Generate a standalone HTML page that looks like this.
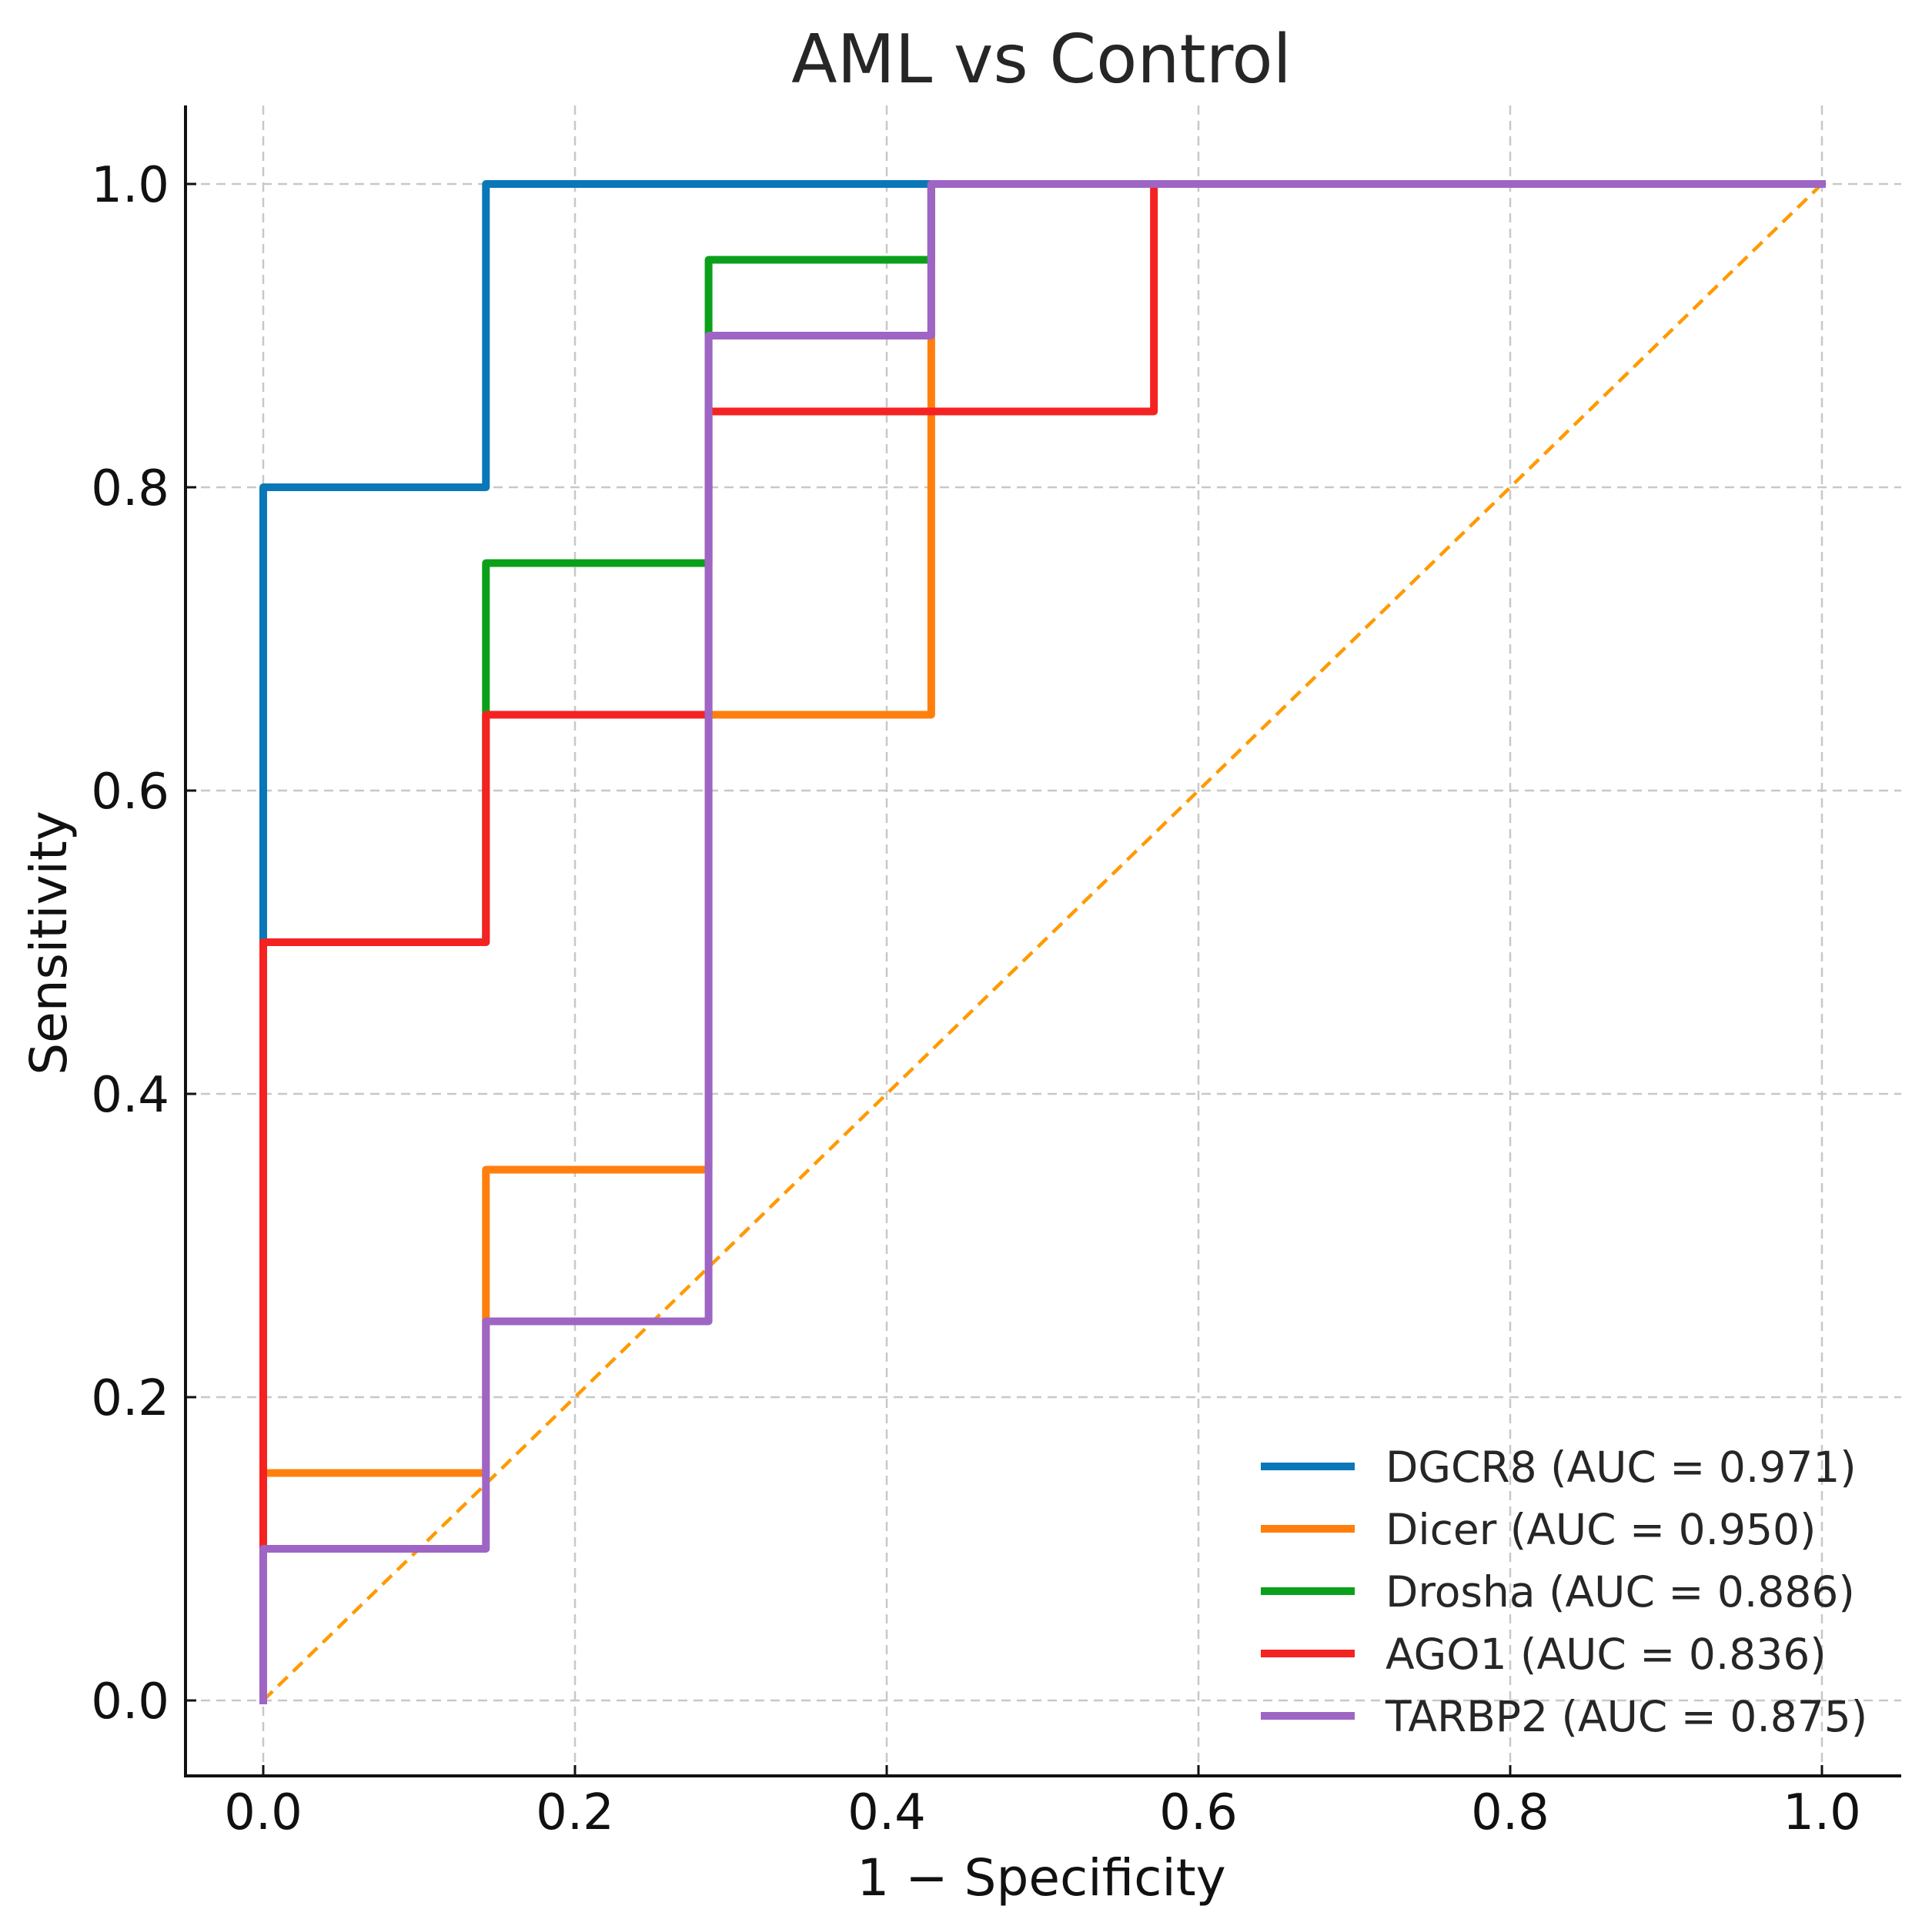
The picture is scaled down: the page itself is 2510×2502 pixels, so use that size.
<!DOCTYPE html>
<html><head><meta charset="utf-8">
<style>
html,body{margin:0;padding:0;background:#fff;}
svg{display:block;font-family:"DejaVu Sans","Liberation Sans",sans-serif;}
</style></head>
<body>
<svg id="chart" width="2510" height="2502" viewBox="0 0 2510 2502" xmlns="http://www.w3.org/2000/svg">
<rect width="2510" height="2502" fill="#fff"/>
<g id="grid"></g>
<g id="series"></g>
<g id="axes"></g>
<g id="legend"></g>
<text x="1353" y="107" font-size="87" text-anchor="middle" fill="#262626">AML vs Control</text>
<text x="1353" y="2462" font-size="66" text-anchor="middle" fill="#111">1 − Specificity</text>
<text x="0" y="0" font-size="66" text-anchor="middle" fill="#111" transform="translate(86,1225) rotate(-90)">Sensitivity</text>
</svg>
<script>
const xTicks = [0, 0.2, 0.4, 0.6, 0.8, 1.0];
const yTicks = [0, 0.2, 0.4, 0.6, 0.8, 1.0];
const tickLabels = ["0.0", "0.2", "0.4", "0.6", "0.8", "1.0"];
const seriesNames = ["DGCR8 (AUC = 0.971)", "Dicer (AUC = 0.950)", "Drosha (AUC = 0.886)", "AGO1 (AUC = 0.836)", "TARBP2 (AUC = 0.875)"];
const seriesColors = ["#0a77b8", "#ff7f0e", "#0aa01a", "#f52222", "#9e65c4"];
const dgcr8FPR = [0, 0, 1/7, 1/7, 1];
const dgcr8TPR = [0, 0.8, 0.8, 1, 1];
const dicerFPR = [0, 0, 1/7, 1/7, 2/7, 2/7, 3/7, 3/7, 1];
const dicerTPR = [0, 0.15, 0.15, 0.35, 0.35, 0.65, 0.65, 1, 1];
const droshaFPR = [0, 0, 1/7, 1/7, 2/7, 2/7, 3/7, 3/7, 1];
const droshaTPR = [0, 0.5, 0.5, 0.75, 0.75, 0.95, 0.95, 1, 1];
const ago1FPR = [0, 0, 1/7, 1/7, 2/7, 2/7, 4/7, 4/7, 1];
const ago1TPR = [0, 0.5, 0.5, 0.65, 0.65, 0.85, 0.85, 1, 1];
const tarbp2FPR = [0, 0, 1/7, 1/7, 2/7, 2/7, 3/7, 3/7, 1];
const tarbp2TPR = [0, 0.1, 0.1, 0.25, 0.25, 0.9, 0.9, 1, 1];
const diagX = [0, 1];
const diagY = [0, 1];

const NS = "http://www.w3.org/2000/svg";
const X0 = 342, X1 = 2367, Y0 = 2209, Y1 = 239;
const L = 241, R = 2470, T = 137, B = 2307;
const sx = v => X0 + v * (X1 - X0);
const sy = v => Y0 - v * (Y0 - Y1);
function mk(tag, attrs, parent) {
  const e = document.createElementNS(NS, tag);
  for (const k in attrs) e.setAttribute(k, attrs[k]);
  parent.appendChild(e);
  return e;
}
const grid = document.getElementById('grid');
const axes = document.getElementById('axes');
const ser = document.getElementById('series');
const leg = document.getElementById('legend');

xTicks.forEach((v, i) => {
  const g = mk('line', {x1: sx(v), x2: sx(v), y1: T, y2: B, stroke: '#c8c8c8', 'stroke-width': 2.5, 'stroke-dasharray': '12 8'}, grid);
  
  
  const t = mk('line', {x1: sx(v), x2: sx(v), y1: B, y2: B - 14, stroke: '#111', 'stroke-width': 3}, axes);
  
  
  const lb = mk('text', {x: sx(v), y: 2376, 'font-size': 64, 'text-anchor': 'middle', fill: '#111'}, axes);
  lb.textContent = tickLabels[i];
  
  
});
yTicks.forEach((v, i) => {
  const g = mk('line', {x1: L, x2: R, y1: sy(v), y2: sy(v), stroke: '#c8c8c8', 'stroke-width': 2.5, 'stroke-dasharray': '12 8'}, grid);
  
  
  const t = mk('line', {x1: L, x2: L + 14, y1: sy(v), y2: sy(v), stroke: '#111', 'stroke-width': 3}, axes);
  
  
  const lb = mk('text', {x: 220, y: sy(v) + 23, 'font-size': 64, 'text-anchor': 'end', fill: '#111'}, axes);
  lb.textContent = tickLabels[i];
  
  
});
const ls = mk('line', {x1: L, x2: L, y1: T, y2: B + 2, stroke: '#111', 'stroke-width': 4}, axes);


const bs = mk('line', {x1: L - 2, x2: R, y1: B, y2: B, stroke: '#111', 'stroke-width': 4}, axes);



const allX = [dgcr8FPR, dicerFPR, droshaFPR, ago1FPR, tarbp2FPR];
const allY = [dgcr8TPR, dicerTPR, droshaTPR, ago1TPR, tarbp2TPR];
const keys = ['dgcr8', 'dicer', 'drosha', 'ago1', 'tarbp2'];

const diag = mk('polyline', {points: diagX.map((x, i) => sx(x) + ',' + sy(diagY[i])).join(' '), fill: 'none', stroke: '#ff9a00', 'stroke-width': 4.5, 'stroke-dasharray': '17 10'}, ser);



allX.forEach((xs, s) => {
  const pts = xs.map((x, i) => sx(x) + ',' + sy(allY[s][i])).join(' ');
  const p = mk('polyline', {points: pts, fill: 'none', stroke: seriesColors[s], 'stroke-width': 10, 'stroke-linejoin': 'round', 'stroke-linecap': 'square'}, ser);
  
  
});

seriesNames.forEach((n, i) => {
  const y = 1905 + i * 81;
  const g = mk('g', {}, leg);
  
  
  mk('line', {x1: 1638, x2: 1760, y1: y, y2: y, stroke: seriesColors[i], 'stroke-width': 10}, g);
  const t = mk('text', {x: 1800, y: y + 20, 'font-size': 55, fill: '#262626'}, g);
  t.textContent = n;
});
</script>
</body></html>
